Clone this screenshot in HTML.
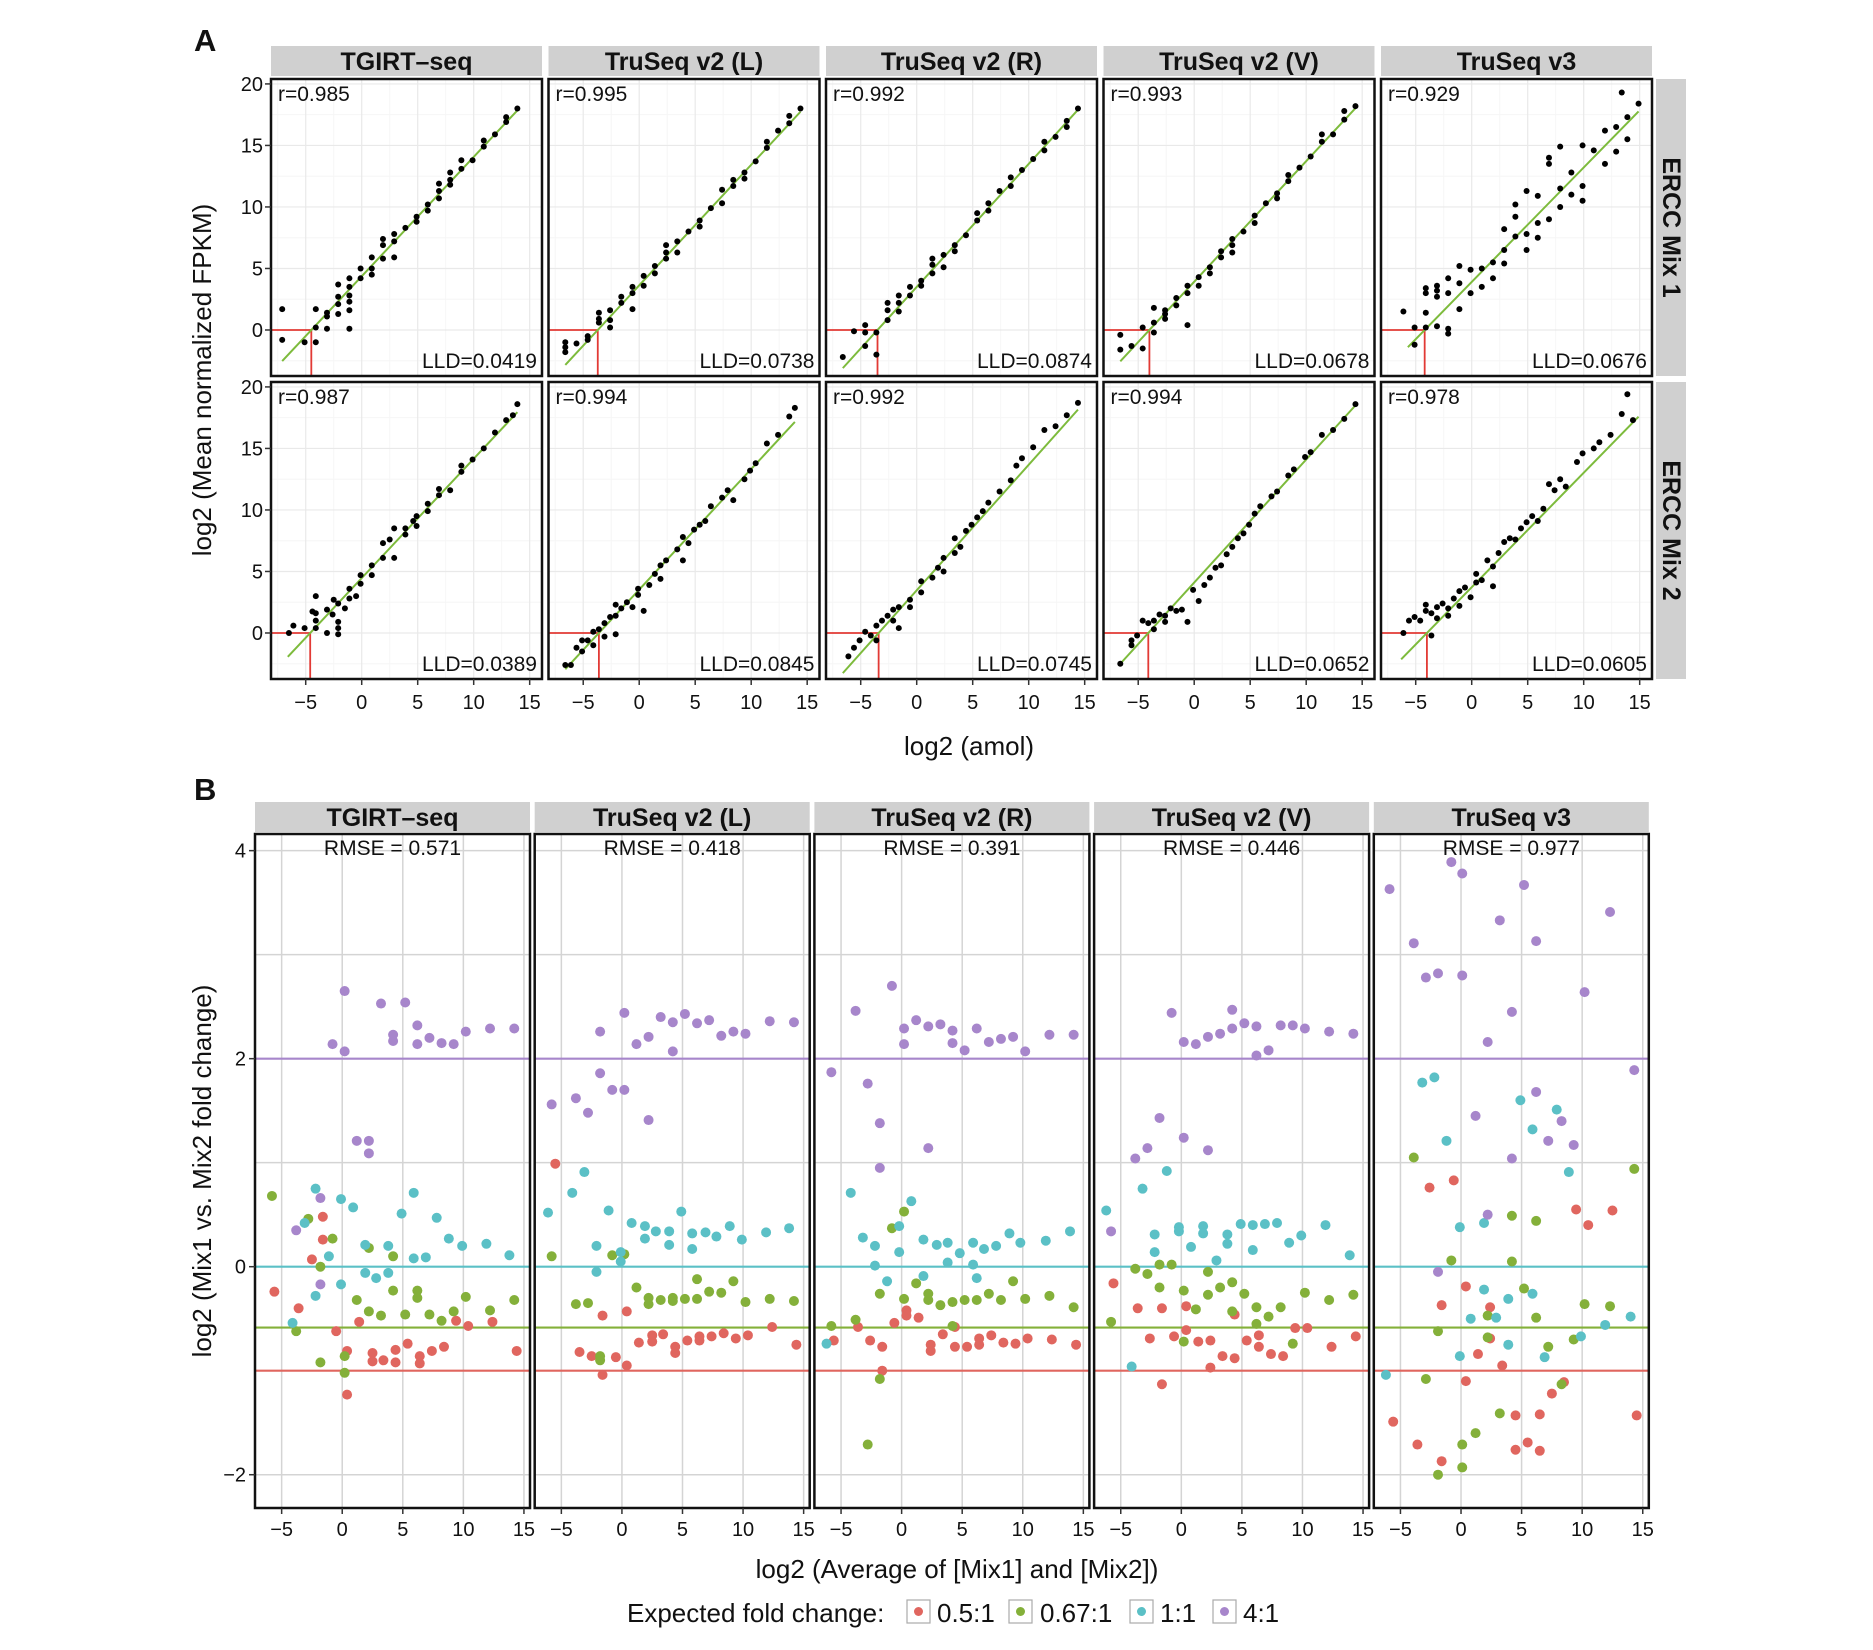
<!DOCTYPE html>
<html><head><meta charset="utf-8"><style>
html,body{margin:0;padding:0;background:#fff}
svg{display:block}
text{font-family:"Liberation Sans",Arial,sans-serif;fill:#111}
</style></head><body>
<svg id="fig" width="1873" height="1650" viewBox="0 0 1873 1650" xmlns="http://www.w3.org/2000/svg">
<g id="root"></g>
</svg>
<script>
// ---------- Data ----------
const methods = ["TGIRT\u2013seq","TruSeq v2 (L)","TruSeq v2 (R)","TruSeq v2 (V)","TruSeq v3"];
const mixes = ["ERCC Mix 1","ERCC Mix 2"];
const rLabels = [["0.985","0.995","0.992","0.993","0.929"],["0.987","0.994","0.992","0.994","0.978"]];
const lldLabels = [["0.0419","0.0738","0.0874","0.0678","0.0676"],["0.0389","0.0845","0.0745","0.0652","0.0605"]];
const lldX = [[-4.5,-3.7,-3.5,-4.0,-4.2],[-4.6,-3.6,-3.4,-4.1,-4.0]];
const fitSlope = [[0.97,0.98,1.0,0.98,0.93],[0.97,0.98,1.02,1.0,0.93]];
const fitRange = [[[-7.1,13.9],[-6.6,14.4],[-6.6,14.6],[-6.6,14.4],[-5.7,14.9]],[[-6.6,13.9],[-6.6,13.9],[-6.6,14.4],[-6.6,14.4],[-6.3,14.9]]];
const axTicksA_x = [-5,0,5,10,15];
const axTicksA_y = [0,5,10,15,20];
const ptsA = [[
[[-7.1,1.7],[-7.1,-0.8],[-5.1,-1.0],[-4.1,-1.0],[-4.1,1.7],[-4.1,0.2],[-3.1,0.1],[-3.1,1.4],[-3.1,1.1],[-2.1,3.7],[-2.1,2.7],[-2.1,2.1],[-2.1,1.3],[-1.1,4.2],[-1.1,3.5],[-1.1,2.8],[-1.1,2.3],[-1.1,1.6],[-1.1,0.1],[-0.1,5.0],[-0.1,4.2],[0.9,5.9],[0.9,5.0],[0.9,4.5],[1.9,7.4],[1.9,6.9],[1.9,5.8],[2.9,7.8],[2.9,7.2],[2.9,5.9],[3.9,8.3],[4.9,9.2],[4.9,8.8],[5.9,10.2],[5.9,9.7],[6.9,11.9],[6.9,11.3],[6.9,10.7],[7.9,12.8],[7.9,12.2],[7.9,11.8],[8.9,13.8],[8.9,13.1],[9.9,13.8],[10.9,15.4],[10.9,14.9],[11.9,15.9],[12.9,17.3],[12.9,16.9],[13.9,18.0]],
[[-6.6,-1.0],[-6.6,-1.4],[-6.6,-1.8],[-5.6,-1.1],[-4.6,-0.5],[-4.6,-0.8],[-3.6,1.4],[-3.6,0.9],[-3.6,0.6],[-2.6,1.6],[-2.6,0.8],[-2.6,0.2],[-1.6,2.7],[-1.6,2.2],[-0.6,3.5],[-0.6,3.0],[-0.6,1.7],[0.4,4.4],[0.4,3.6],[1.4,5.2],[1.4,4.6],[2.4,6.9],[2.4,6.3],[2.4,5.8],[3.4,7.2],[3.4,6.3],[4.4,8.0],[5.4,8.9],[5.4,8.4],[6.4,9.9],[7.4,11.4],[7.4,10.3],[8.4,12.2],[8.4,11.7],[9.4,12.8],[9.4,12.3],[10.4,13.7],[11.4,15.3],[11.4,14.8],[12.4,16.2],[13.4,17.4],[13.4,16.8],[14.4,18.0]],
[[-6.6,-2.2],[-5.6,-0.1],[-4.6,-1.3],[-4.6,-0.2],[-4.6,0.4],[-3.6,-0.2],[-3.6,-2.0],[-2.6,1.6],[-2.6,2.2],[-2.6,0.8],[-1.6,2.8],[-1.6,2.2],[-1.6,1.5],[-0.6,3.5],[-0.6,2.8],[0.4,4.0],[0.4,3.6],[1.4,5.8],[1.4,5.3],[1.4,4.6],[2.4,6.1],[2.4,5.1],[3.4,6.9],[3.4,6.4],[4.4,7.7],[5.4,9.5],[5.4,8.9],[6.4,10.3],[6.4,9.7],[7.4,11.3],[8.4,12.4],[8.4,11.7],[9.4,13.0],[10.4,13.9],[11.4,15.3],[11.4,14.6],[12.4,15.7],[13.4,17.0],[13.4,16.5],[14.4,18.0]],
[[-6.6,-1.6],[-6.6,-0.4],[-5.6,-1.3],[-4.6,-1.5],[-4.6,0.2],[-3.6,0.6],[-3.6,1.8],[-3.6,-0.2],[-2.6,1.6],[-2.6,0.9],[-2.6,1.3],[-1.6,2.6],[-1.6,2.0],[-0.6,3.6],[-0.6,3.0],[-0.6,0.4],[0.4,4.3],[0.4,3.6],[1.4,5.1],[1.4,4.6],[2.4,6.4],[2.4,5.9],[3.4,7.4],[3.4,6.9],[3.4,6.3],[4.4,8.0],[5.4,9.3],[5.4,8.7],[6.4,10.3],[7.4,11.1],[7.4,10.7],[8.4,12.6],[8.4,12.1],[9.4,13.2],[10.4,14.1],[11.4,15.9],[11.4,15.3],[12.4,15.9],[13.4,17.8],[13.4,17.1],[14.4,18.2]],
[[-6.1,1.5],[-5.1,-1.2],[-5.1,0.2],[-4.1,3.4],[-4.1,3.0],[-4.1,0.2],[-4.1,1.4],[-3.1,3.2],[-3.1,2.7],[-3.1,3.6],[-3.1,0.3],[-2.1,4.2],[-2.1,3.0],[-2.1,0.1],[-2.1,-0.3],[-1.1,5.2],[-1.1,3.8],[-1.1,1.7],[-0.1,4.9],[-0.1,3.0],[0.9,5.0],[0.9,3.5],[1.9,5.5],[1.9,4.2],[2.9,8.2],[2.9,6.5],[2.9,5.4],[3.9,10.2],[3.9,9.2],[3.9,7.6],[4.9,11.3],[4.9,7.8],[4.9,6.5],[5.9,10.9],[5.9,8.7],[5.9,7.5],[6.9,14.0],[6.9,13.5],[6.9,9.0],[7.9,14.9],[7.9,11.5],[7.9,10.0],[8.9,12.8],[8.9,11.0],[9.9,15.0],[9.9,11.7],[9.9,10.5],[10.9,14.6],[11.9,16.2],[11.9,13.5],[12.9,16.5],[12.9,14.5],[13.4,19.3],[13.9,17.3],[13.9,15.5],[14.9,18.4]]
],[
[[-6.5,0],[-6.1,0.6],[-5.1,0.4],[-4.1,3.0],[-4.4,1.75],[-4.1,1.6],[-4.1,1.0],[-4.1,0.4],[-3.1,0],[-3.1,1.9],[-2.6,1.5],[-2.5,2.7],[-2.1,2.4],[-2.1,0.9],[-2.1,0.4],[-2.1,-0.1],[-1.5,2.0],[-1.1,3.6],[-1.1,2.8],[-0.5,3.0],[-0.1,4.7],[-0.1,4.0],[0.9,5.5],[0.9,4.7],[1.9,7.3],[1.9,6.1],[2.5,7.6],[2.9,8.5],[2.9,6.1],[3.9,8.5],[3.9,8.0],[4.6,9.1],[4.9,9.5],[4.9,8.7],[5.9,10.5],[5.9,9.9],[6.9,11.7],[6.9,11.2],[7.9,11.6],[8.9,13.6],[8.9,13.1],[9.9,14.1],[10.9,15.0],[11.9,16.3],[12.9,17.3],[13.5,17.7],[13.9,18.6]],
[[-6.6,-2.6],[-6.1,-2.6],[-5.6,-1.2],[-5.1,-0.6],[-5.1,-1.5],[-4.6,-0.6],[-4.1,0.1],[-4.1,-1.0],[-3.6,0.3],[-3.1,0.8],[-3.1,-0.3],[-2.6,1.3],[-2.1,2.3],[-2.1,1.4],[-2.1,-0.1],[-1.6,2.0],[-1.1,2.5],[-0.6,2.1],[0.4,1.8],[-0.1,3.6],[-0.1,3.1],[0.9,3.9],[1.4,4.8],[1.9,4.4],[1.9,5.5],[2.4,5.9],[3.4,6.8],[3.9,7.8],[3.9,5.9],[4.4,7.3],[4.9,8.4],[5.4,8.8],[5.9,9.1],[6.4,10.3],[7.4,11.0],[7.9,11.6],[8.4,10.8],[9.4,12.5],[9.9,13.2],[10.4,13.8],[11.4,15.4],[12.4,16.1],[13.4,17.6],[13.9,18.3]],
[[-6.1,-1.9],[-5.6,-1.2],[-5.1,-0.6],[-4.6,0.1],[-4.1,-0.2],[-3.6,0.6],[-3.6,-0.6],[-3.1,1.0],[-2.6,1.4],[-2.1,1.9],[-2.1,1.0],[-1.6,2.1],[-1.6,0.4],[-0.6,2.7],[-0.6,2.1],[0.4,4.2],[0.4,3.3],[1.4,4.5],[1.9,5.3],[2.4,6.1],[2.4,5.0],[3.4,7.7],[3.4,6.5],[3.9,7.0],[4.4,8.3],[4.9,8.8],[5.4,9.4],[5.9,9.9],[6.4,10.6],[7.4,11.5],[8.4,12.4],[8.9,13.6],[9.4,14.2],[10.4,15.1],[11.4,16.5],[12.4,16.8],[13.4,17.7],[14.4,18.7]],
[[-6.6,-2.5],[-5.6,-1.0],[-5.6,-0.6],[-5.1,-0.2],[-4.6,1.0],[-4.1,0.8],[-3.6,1.0],[-3.6,0.3],[-3.1,1.5],[-2.6,0.9],[-2.6,1.4],[-2.1,2.0],[-1.6,1.8],[-1.1,1.9],[-0.6,0.9],[-0.1,3.5],[0.4,2.6],[0.9,3.9],[1.4,4.5],[1.9,5.3],[2.4,5.5],[2.9,6.4],[3.4,7.0],[3.9,7.7],[4.4,8.1],[4.9,8.8],[5.4,9.7],[5.9,10.3],[6.9,11.1],[7.4,11.5],[8.4,12.8],[8.9,13.3],[9.9,14.3],[10.4,14.7],[11.4,16.1],[12.4,16.5],[13.4,17.4],[14.4,18.6]],
[[-6.1,0.0],[-5.6,1.0],[-5.1,1.3],[-4.6,1.0],[-4.1,1.8],[-4.1,2.3],[-3.6,-0.2],[-3.6,1.6],[-3.1,2.1],[-3.1,1.2],[-2.6,2.4],[-2.1,2.0],[-2.1,1.4],[-1.6,2.8],[-1.1,3.4],[-1.1,2.2],[-0.6,3.7],[-0.1,2.9],[0.4,4.1],[0.4,4.8],[0.9,4.3],[1.4,5.9],[1.9,5.4],[1.9,3.8],[2.4,6.5],[2.9,7.4],[3.4,7.7],[3.9,7.6],[4.4,8.5],[4.9,9.0],[5.4,9.5],[5.9,9.1],[6.4,10.1],[6.9,12.1],[7.4,11.6],[7.9,12.5],[8.4,11.9],[9.4,13.9],[9.9,14.6],[10.9,15.0],[11.4,15.5],[12.4,16.1],[13.4,17.8],[13.9,19.4],[14.4,17.3]]
]];

// Panel B
const rmseLabels = ["RMSE = 0.571","RMSE =  0.418","RMSE =  0.391","RMSE =  0.446","RMSE =  0.977"];
const groupNames = ["0.5:1","0.67:1","1:1","4:1"];
const expectedLog2 = [-1,-0.585,0,2];
const axTicksB_x = [-5,0,5,10,15];
const axTicksB_y = [-2,0,2,4];
const bRed = [
[[-1.6,0.48],[-1.6,0.26],[-2.5,0.07],[-5.6,-0.24],[-3.6,-0.4],[-0.5,-0.62],[1.4,-0.53],[9.4,-0.52],[10.4,-0.57],[12.4,-0.53],[0.4,-0.81],[2.5,-0.83],[2.5,-0.91],[3.4,-0.9],[4.4,-0.8],[4.4,-0.92],[5.4,-0.74],[6.4,-0.86],[6.4,-0.93],[7.4,-0.81],[8.4,-0.77],[14.4,-0.81],[0.4,-1.23]],
[[-5.5,0.99],[-1.6,-0.47],[0.4,-0.43],[2.5,-0.66],[2.5,-0.72],[3.4,-0.65],[1.4,-0.73],[4.4,-0.77],[4.4,-0.83],[5.4,-0.71],[6.4,-0.67],[6.4,-0.71],[7.4,-0.67],[8.4,-0.64],[9.4,-0.69],[10.4,-0.66],[12.4,-0.58],[14.4,-0.75],[-3.5,-0.82],[-2.5,-0.86],[-0.5,-0.87],[0.4,-0.95],[-1.6,-1.04]],
[[-0.6,-0.54],[0.4,-0.42],[0.4,-0.47],[1.4,-0.49],[-3.6,-0.58],[-5.6,-0.71],[-2.6,-0.71],[-1.6,-0.77],[-1.6,-1.0],[2.4,-0.75],[2.4,-0.81],[3.4,-0.65],[4.4,-0.58],[4.4,-0.77],[5.4,-0.77],[6.4,-0.69],[6.4,-0.75],[7.4,-0.66],[8.4,-0.73],[9.4,-0.74],[10.4,-0.69],[12.4,-0.7],[14.4,-0.75]],
[[-5.6,-0.16],[-3.6,-0.4],[-1.6,-0.4],[0.4,-0.38],[0.4,-0.61],[-2.6,-0.69],[-0.6,-0.67],[1.4,-0.72],[2.4,-0.71],[2.4,-0.97],[3.4,-0.86],[4.4,-0.46],[4.4,-0.88],[5.4,-0.71],[6.4,-0.66],[6.4,-0.77],[7.4,-0.84],[8.4,-0.86],[9.4,-0.59],[10.4,-0.59],[12.4,-0.77],[14.4,-0.67],[-1.6,-1.13]],
[[-0.6,0.83],[-2.6,0.76],[9.5,0.55],[12.5,0.54],[10.5,0.4],[0.4,-0.19],[-1.6,-0.37],[2.4,-0.39],[2.4,-0.69],[1.4,-0.84],[3.4,-0.95],[0.4,-1.1],[8.5,-1.11],[7.5,-1.22],[-5.6,-1.49],[4.5,-1.43],[6.5,-1.42],[14.5,-1.43],[-3.6,-1.71],[4.5,-1.76],[5.5,-1.69],[6.5,-1.77],[-1.6,-1.87]]
];
const bGreen = [
[[-5.8,0.68],[-2.8,0.46],[-0.8,0.27],[2.2,0.18],[4.2,0.1],[-1.8,0.0],[4.2,-0.23],[6.2,-0.23],[6.2,-0.3],[10.2,-0.29],[14.2,-0.32],[1.2,-0.32],[2.2,-0.43],[3.2,-0.47],[5.2,-0.46],[7.2,-0.46],[8.2,-0.52],[9.2,-0.43],[12.2,-0.42],[-3.8,-0.62],[-1.8,-0.92],[0.2,-0.86],[0.2,-1.02]],
[[-5.8,0.1],[-0.8,0.11],[0.2,0.12],[-3.8,-0.36],[-2.8,-0.35],[1.2,-0.2],[2.2,-0.3],[2.2,-0.36],[3.2,-0.32],[4.2,-0.3],[4.2,-0.33],[5.2,-0.31],[6.2,-0.12],[6.2,-0.31],[7.2,-0.24],[8.2,-0.25],[9.2,-0.14],[10.2,-0.34],[12.2,-0.31],[14.2,-0.33],[-1.8,-0.86],[-1.8,-0.9]],
[[0.2,0.53],[-0.8,0.37],[-1.8,-0.26],[0.2,-0.31],[1.2,-0.16],[2.2,-0.26],[2.2,-0.32],[3.2,-0.37],[4.2,-0.34],[5.2,-0.32],[6.2,-0.32],[7.2,-0.26],[8.2,-0.32],[9.2,-0.14],[10.2,-0.31],[12.2,-0.28],[14.2,-0.39],[-3.8,-0.51],[-5.8,-0.57],[4.2,-0.57],[-1.8,-1.08],[-2.8,-1.71]],
[[-3.8,-0.02],[-2.8,-0.07],[-1.8,0.02],[-0.8,0.02],[-1.8,-0.2],[0.2,-0.23],[1.2,-0.41],[2.2,-0.05],[2.2,-0.27],[3.2,-0.2],[4.2,-0.15],[4.2,-0.43],[5.2,-0.26],[6.2,-0.39],[6.2,-0.55],[7.2,-0.48],[8.2,-0.39],[9.2,-0.74],[10.2,-0.25],[12.2,-0.32],[14.2,-0.27],[-5.8,-0.53],[0.2,-0.72]],
[[-3.9,1.05],[14.3,0.94],[4.2,0.49],[6.2,0.44],[-0.8,0.06],[4.2,0.05],[5.2,-0.21],[10.2,-0.36],[12.3,-0.38],[2.2,-0.47],[6.2,-0.49],[-1.9,-0.62],[2.2,-0.68],[7.2,-0.77],[9.3,-0.7],[-2.9,-1.08],[8.3,-1.13],[3.2,-1.41],[1.2,-1.6],[0.1,-1.71],[0.1,-1.93],[-1.9,-2.0]]
];
const bCyan = [
[[-2.2,0.75],[-0.1,0.65],[0.9,0.57],[5.9,0.71],[4.9,0.51],[7.8,0.47],[-3.1,0.42],[8.8,0.27],[9.9,0.2],[11.9,0.22],[1.9,0.21],[3.8,0.2],[-1.1,0.1],[5.9,0.08],[6.9,0.09],[13.8,0.11],[1.9,-0.06],[2.8,-0.11],[3.8,-0.06],[-0.1,-0.17],[-2.2,-0.28],[-4.1,-0.54]],
[[-3.1,0.91],[-4.1,0.71],[-6.1,0.52],[-1.1,0.54],[4.9,0.53],[0.8,0.42],[1.9,0.39],[1.9,0.27],[2.8,0.34],[3.9,0.34],[3.9,0.21],[5.8,0.32],[5.8,0.17],[6.9,0.33],[7.8,0.29],[8.9,0.39],[9.9,0.26],[11.9,0.33],[13.8,0.37],[-2.1,0.2],[-2.1,-0.05],[-0.1,0.14],[-0.1,0.05]],
[[-4.2,0.71],[0.8,0.63],[-3.2,0.28],[-2.2,0.2],[-0.2,0.39],[-0.2,0.14],[1.8,0.26],[2.9,0.21],[3.8,0.23],[3.8,0.04],[4.8,0.13],[5.9,0.23],[5.9,0.02],[6.8,0.17],[7.8,0.2],[8.9,0.32],[9.8,0.23],[11.9,0.25],[13.9,0.34],[-2.2,0.01],[-1.2,-0.14],[1.8,-0.09],[6.2,-0.11],[-6.2,-0.74]],
[[-1.2,0.92],[-3.2,0.75],[-6.2,0.54],[-2.2,0.31],[-2.2,0.14],[-0.2,0.38],[-0.2,0.34],[0.8,0.19],[1.8,0.39],[1.8,0.32],[2.9,0.06],[3.8,0.31],[3.8,0.22],[4.9,0.41],[5.9,0.4],[5.9,0.16],[6.9,0.41],[7.9,0.42],[8.9,0.23],[9.9,0.3],[11.9,0.4],[13.9,0.11],[-4.1,-0.96]],
[[-3.2,1.77],[-2.2,1.82],[4.9,1.6],[7.9,1.51],[5.9,1.32],[-1.2,1.21],[8.9,0.91],[-0.1,0.38],[1.9,0.42],[1.9,-0.22],[5.9,-0.26],[3.9,-0.31],[0.8,-0.5],[2.9,-0.49],[14,-0.48],[11.9,-0.56],[9.9,-0.67],[3.9,-0.75],[-0.1,-0.86],[6.9,-0.87],[-6.2,-1.04]]
];
const bPurple = [
[[0.2,2.65],[3.2,2.53],[5.2,2.54],[-0.8,2.14],[0.2,2.07],[4.2,2.23],[4.2,2.17],[6.2,2.32],[6.2,2.14],[7.2,2.2],[8.2,2.15],[9.2,2.14],[10.2,2.26],[12.2,2.29],[14.2,2.29],[1.2,1.21],[2.2,1.21],[2.2,1.09],[-1.8,0.66],[-3.8,0.35],[-1.8,-0.17]],
[[0.2,2.44],[-1.8,2.26],[1.2,2.14],[2.2,2.21],[3.2,2.4],[4.2,2.35],[4.2,2.07],[5.2,2.43],[6.2,2.34],[7.2,2.37],[8.2,2.22],[9.2,2.26],[10.2,2.24],[12.2,2.36],[14.2,2.35],[-1.8,1.86],[-0.8,1.7],[0.2,1.7],[-5.8,1.56],[-3.8,1.62],[-2.8,1.48],[2.2,1.41]],
[[-0.8,2.7],[-3.8,2.46],[0.2,2.29],[0.2,2.14],[1.2,2.37],[2.2,2.31],[3.2,2.33],[4.2,2.27],[4.2,2.15],[5.2,2.08],[6.2,2.29],[7.2,2.16],[8.2,2.19],[9.2,2.21],[10.2,2.07],[12.2,2.23],[14.2,2.23],[-5.8,1.87],[-2.8,1.76],[-1.8,1.38],[-1.8,0.95],[2.2,1.14]],
[[-0.8,2.44],[4.2,2.47],[0.2,2.16],[1.2,2.14],[2.2,2.21],[3.2,2.24],[4.2,2.29],[5.2,2.34],[6.2,2.31],[6.2,2.03],[7.2,2.08],[8.2,2.32],[9.2,2.32],[10.2,2.29],[12.2,2.26],[14.2,2.24],[-1.8,1.43],[0.2,1.24],[2.2,1.12],[-3.8,1.04],[-2.8,1.14],[-5.8,0.34]],
[[-0.8,3.89],[0.1,3.78],[-5.9,3.63],[5.2,3.67],[12.3,3.41],[3.2,3.33],[-3.9,3.11],[6.2,3.13],[-2.9,2.78],[-1.9,2.82],[0.1,2.8],[10.2,2.64],[4.2,2.45],[2.2,2.16],[14.3,1.89],[6.2,1.68],[1.2,1.45],[8.3,1.4],[7.2,1.21],[9.3,1.17],[4.2,1.04],[2.2,0.5],[-1.9,-0.05]]
];

// ---------- Drawing ----------
const NS="http://www.w3.org/2000/svg";
const root=document.getElementById('root');
function mk(tag,attrs,parent,txt){const e=document.createElementNS(NS,tag);for(const k in attrs)e.setAttribute(k,attrs[k]);if(txt!==undefined)e.textContent=txt;(parent||root).appendChild(e);return e;}
function fmt(v){return v<0?"\u2212"+Math.abs(v):String(v);}
const colors=["#e0665f","#84b03a","#5bc0c6","#a786cb"];
const FS_TICK=20, FS_ANN=21, FS_STRIP=25, FS_TITLE=26;

// ===== Panel A =====
const A_step=277.5, A_w=271;
const A_left=[0,1,2,3,4].map(i=>271+A_step*i), A_top=[79,382], A_h=297;
const A_xd=[-8.1,16.1], A_yd=[-3.74,20.4];
const A_stripX=A_left[4]+A_w+4;
function axX(p,v){return A_left[p]+(v-A_xd[0])/(A_xd[1]-A_xd[0])*A_w;}
function axY(r,v){return A_top[r]+A_h-(v-A_yd[0])/(A_yd[1]-A_yd[0])*A_h;}

let t=mk('text',{x:194,y:51,'font-size':31,'font-weight':'bold'},root,'A');



for(let p=0;p<5;p++){
  let s=mk('rect',{x:A_left[p],y:46,width:A_w,height:30,fill:'#d0d0d0'});
  
  
  let st=mk('text',{x:A_left[p]+A_w/2,y:70,'font-size':FS_STRIP,'font-weight':'bold','text-anchor':'middle'},root,methods[p]);
  
  
}
for(let r=0;r<2;r++){
  let s=mk('rect',{x:A_stripX,y:A_top[r],width:30,height:A_h,fill:'#d0d0d0'});
  
  
  let cy=A_top[r]+A_h/2, cx=A_stripX+7;
  let st=mk('text',{x:cx,y:cy,'font-size':FS_STRIP,'font-weight':'bold','text-anchor':'middle',transform:`rotate(90 ${cx} ${cy})`},root,mixes[r]);
  
  
}

for(let r=0;r<2;r++){
  for(let p=0;p<5;p++){
    const g=mk('g',{});
    
    
    const x0=A_left[p], y0=A_top[r];
    mk('rect',{x:x0,y:y0,width:A_w,height:A_h,fill:'#fff'},g);
    for(let v=-7.5;v<=16;v+=5){mk('line',{x1:axX(p,v),x2:axX(p,v),y1:y0,y2:y0+A_h,stroke:'#f6f6f6','stroke-width':1},g);}
    for(let v=-2.5;v<=20;v+=5){mk('line',{x1:x0,x2:x0+A_w,y1:axY(r,v),y2:axY(r,v),stroke:'#f6f6f6','stroke-width':1},g);}
    axTicksA_x.forEach(v=>mk('line',{x1:axX(p,v),x2:axX(p,v),y1:y0,y2:y0+A_h,stroke:'#e9e9e9','stroke-width':1.2},g));
    axTicksA_y.forEach(v=>mk('line',{x1:x0,x2:x0+A_w,y1:axY(r,v),y2:axY(r,v),stroke:'#e9e9e9','stroke-width':1.2},g));
    const lx=axX(p,lldX[r][p]), ly=axY(r,0);
    let rl=mk('path',{d:`M${x0} ${ly}H${lx}V${y0+A_h}`,fill:'none',stroke:'#e23a35','stroke-width':1.8},g);
    
    
    const b=fitSlope[r][p], a=-b*lldX[r][p];
    const xs=fitRange[r][p][0], xe=fitRange[r][p][1];
    let fl=mk('line',{x1:axX(p,xs),y1:axY(r,a+b*xs),x2:axX(p,xe),y2:axY(r,a+b*xe),stroke:'#7dbb3c','stroke-width':2},g);
    
    
    ptsA[r][p].forEach(d=>{
      const c=mk('circle',{cx:axX(p,d[0]),cy:axY(r,d[1]),r:3,fill:'#000'},g);
      
      
    });
    mk('rect',{x:x0,y:y0,width:A_w,height:A_h,fill:'none',stroke:'#111','stroke-width':2.5},g);
    let rt=mk('text',{x:x0+7,y:y0+22,'font-size':FS_ANN},g,'r='+rLabels[r][p]);
    
    
    let lt=mk('text',{x:x0+A_w-5,y:y0+A_h-8,'font-size':FS_ANN,'text-anchor':'end'},g,'LLD='+lldLabels[r][p]);
    
    
  }
  axTicksA_y.forEach(v=>{
    const y=axY(r,v);
    mk('line',{x1:265,x2:271,y1:y,y2:y,stroke:'#333','stroke-width':1.5});
    let tl=mk('text',{x:263,y:y+7,'font-size':FS_TICK,'text-anchor':'end'},root,fmt(v));
    
    
  });
}
for(let p=0;p<5;p++){
  axTicksA_x.forEach(v=>{
    const x=axX(p,v);
    mk('line',{x1:x,x2:x,y1:679,y2:685,stroke:'#333','stroke-width':1.5});
    let tl=mk('text',{x:x,y:709,'font-size':FS_TICK,'text-anchor':'middle'},root,fmt(v));
    
    
  });
}
t=mk('text',{x:969,y:755,'font-size':FS_TITLE,'text-anchor':'middle'},root,'log2 (amol)');


t=mk('text',{x:211,y:380,'font-size':FS_TITLE,'text-anchor':'middle',transform:'rotate(-90 211 380)'},root,'log2 (Mean normalized FPKM)');



// ===== Panel B =====
const B_step=279.7, B_w=275;
const B_left=[0,1,2,3,4].map(i=>255+B_step*i), B_top=834, B_h=674;
const B_xd=[-7.2,15.5], B_yd=[-2.32,4.16];
function bxX(p,v){return B_left[p]+(v-B_xd[0])/(B_xd[1]-B_xd[0])*B_w;}
function byY(v){return B_top+B_h-(v-B_yd[0])/(B_yd[1]-B_yd[0])*B_h;}

t=mk('text',{x:194,y:800,'font-size':31,'font-weight':'bold'},root,'B');



const bSeries=[bRed,bGreen,bCyan,bPurple];
for(let p=0;p<5;p++){
  let s=mk('rect',{x:B_left[p],y:802,width:B_w,height:30,fill:'#d0d0d0'});
  
  
  let st=mk('text',{x:B_left[p]+B_w/2,y:826,'font-size':FS_STRIP,'font-weight':'bold','text-anchor':'middle'},root,methods[p]);
  
  
  const g=mk('g',{});
  
  
  const x0=B_left[p];
  mk('rect',{x:x0,y:B_top,width:B_w,height:B_h,fill:'#fff'},g);
  for(let v=-2;v<=4;v+=1){mk('line',{x1:x0,x2:x0+B_w,y1:byY(v),y2:byY(v),stroke:'#d4d4d4','stroke-width':1.5},g);}
  axTicksB_x.forEach(v=>mk('line',{x1:bxX(p,v),x2:bxX(p,v),y1:B_top,y2:B_top+B_h,stroke:'#d4d4d4','stroke-width':1.5},g));
  expectedLog2.forEach((v,i)=>{
    const l=mk('line',{x1:x0,x2:x0+B_w,y1:byY(v),y2:byY(v),stroke:colors[i],'stroke-width':2.2},g);
    
    
  });
  bSeries.forEach((ser,i)=>{
    ser[p].forEach(d=>{
      const c=mk('circle',{cx:bxX(p,d[0]),cy:byY(d[1]),r:5,fill:colors[i]},g);
      
      
    });
  });
  mk('rect',{x:x0,y:B_top,width:B_w,height:B_h,fill:'none',stroke:'#111','stroke-width':2.5},g);
  let rt=mk('text',{x:x0+B_w/2,y:B_top+21,'font-size':FS_ANN,'text-anchor':'middle','xml:space':'preserve'},g,rmseLabels[p]);
  
  
  axTicksB_x.forEach(v=>{
    const x=bxX(p,v);
    mk('line',{x1:x,x2:x,y1:B_top+B_h,y2:B_top+B_h+6,stroke:'#333','stroke-width':1.5});
    let tl=mk('text',{x:x,y:B_top+B_h+28,'font-size':FS_TICK,'text-anchor':'middle'},root,fmt(v));
    
    
  });
}
axTicksB_y.forEach(v=>{
  const y=byY(v);
  mk('line',{x1:249,x2:255,y1:y,y2:y,stroke:'#333','stroke-width':1.5});
  let tl=mk('text',{x:246,y:y+7,'font-size':FS_TICK,'text-anchor':'end'},root,fmt(v));
  
  
});
t=mk('text',{x:957,y:1578,'font-size':FS_TITLE,'text-anchor':'middle'},root,'log2 (Average of [Mix1] and [Mix2])');


t=mk('text',{x:211,y:1171,'font-size':FS_TITLE,'text-anchor':'middle',transform:'rotate(-90 211 1171)'},root,'log2 (Mix1 vs. Mix2 fold change)');



// legend
const lg=mk('g',{});


t=mk('text',{x:627,y:1622,'font-size':FS_TITLE},lg,'Expected fold change:');


const keyX=[907,1009,1130,1213], labX=[937,1040,1160,1243];
groupNames.forEach((n,i)=>{
  const e=mk('g',{},lg);
  
  
  mk('rect',{x:keyX[i],y:1600,width:23,height:23,fill:'#fff',stroke:'#aaa','stroke-width':1.2},e);
  mk('circle',{cx:keyX[i]+11.5,cy:1611.5,r:4.5,fill:colors[i]},e);
  mk('text',{x:labX[i],y:1622,'font-size':FS_TITLE},e,n);
});
</script>
</body></html>
